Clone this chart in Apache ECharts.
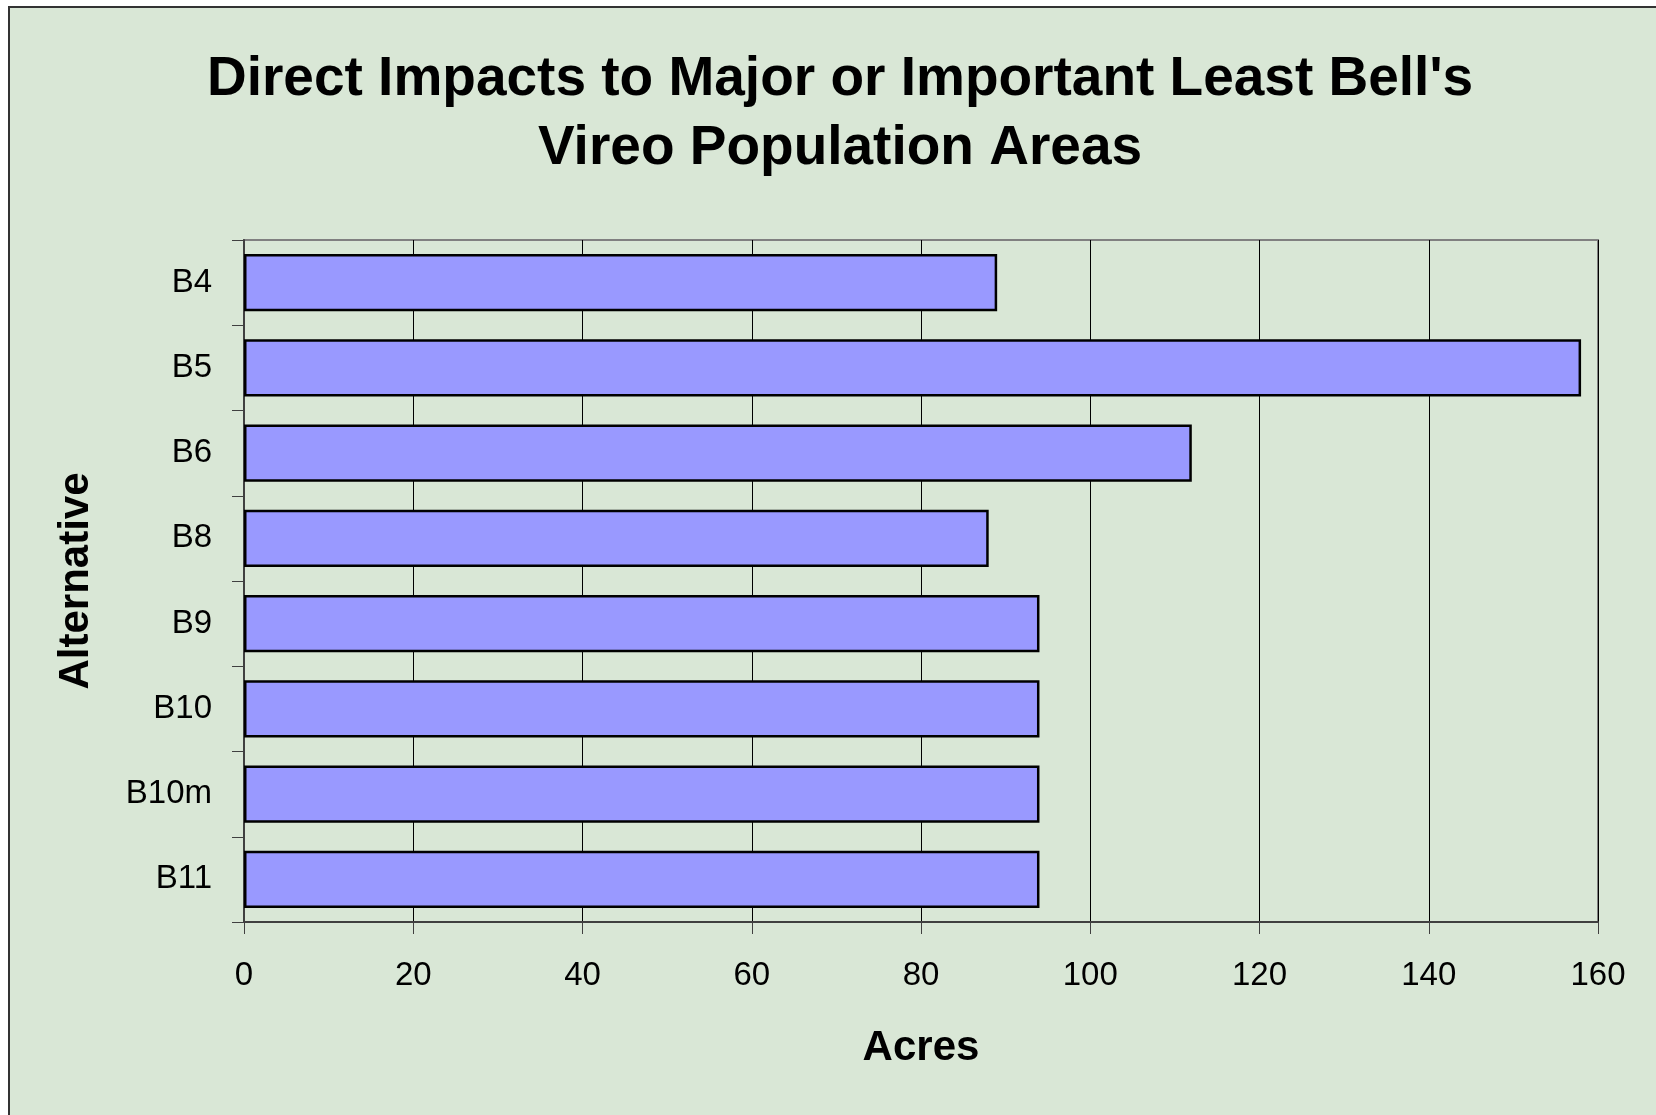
<!DOCTYPE html>
<html>
<head>
<meta charset="utf-8">
<title>Least Bell's Vireo impacts</title>
<script src="https://cdn.jsdelivr.net/npm/echarts@6/dist/echarts.min.js"></script>
<style>
  html, body { margin: 0; padding: 0; background: #fff; }
  #chart { width: 1656px; height: 1115px; }
</style>
</head>
<body>
<div id="chart"></div>
<script>
// values (acres of direct impact per alternative)
const alternatives = ['B4', 'B5', 'B6', 'B8', 'B9', 'B10', 'B10m', 'B11'];
const acres = [89, 158, 112, 88, 94, 94, 94, 94];
const xTicks = { min: 0, max: 160, step: 20 };

const FONT = '"Liberation Sans", Arial, sans-serif';
const BG = '#D9E7D6';

const chart = echarts.init(document.getElementById('chart'), null, { renderer: 'canvas' });

chart.setOption({
    backgroundColor: '#fff',
    animation: false,
    graphic: [{
        // outer chart-area frame (only top and left edges are inside the picture)
        type: 'rect', z: -10, silent: true,
        shape: { x: 9, y: 7, width: 1700, height: 1200 },
        style: { fill: BG, stroke: '#333', lineWidth: 2 },
    }],
    title: {
        text: "Direct Impacts to Major or Important Least Bell's\nVireo Population Areas",
        left: 835, textAlign: 'center', top: 40,
        textStyle: { fontFamily: FONT, fontSize: 55, fontWeight: 'bold', color: '#000', lineHeight: 69 },
    },
    grid: {
        left: 244, top: 240, right: 58, bottom: 193,
        show: true, backgroundColor: 'transparent',
        borderColor: '#808080', borderWidth: 2,
    },
    xAxis: {
        type: 'value',
        min: xTicks.min, max: xTicks.max, interval: xTicks.step,
        name: 'Acres', nameLocation: 'middle', nameGap: 105,
        nameTextStyle: { fontFamily: FONT, fontSize: 42, fontWeight: 'bold', color: '#000' },
        axisLine: { show: true, lineStyle: { color: '#404040', width: 2 } },
        axisTick: { show: true, length: 12, lineStyle: { color: '#404040', width: 1 } },
        axisLabel: { fontFamily: FONT, fontSize: 33, color: '#000', margin: 37 },
        splitLine: { show: true, lineStyle: { color: '#000', width: 1 } },
    },
    yAxis: {
        type: 'category', inverse: true,
        data: alternatives,
        name: 'Alternative', nameLocation: 'middle', nameGap: 147, nameRotate: 90,
        nameTextStyle: { fontFamily: FONT, fontSize: 42, fontWeight: 'bold', color: '#000' },
        axisLine: { show: true, lineStyle: { color: '#404040', width: 2 } },
        axisTick: { show: true, length: 12, lineStyle: { color: '#404040', width: 1 } },
        axisLabel: { fontFamily: FONT, fontSize: 33, color: '#000', margin: 32 },
        splitLine: { show: false },
    },
    series: [{
        type: 'bar',
        data: acres,
        barCategoryGap: '33%',
        itemStyle: { color: '#9999FF', borderColor: '#000', borderWidth: 2.5 },
    }],
});
</script>
</body>
</html>
